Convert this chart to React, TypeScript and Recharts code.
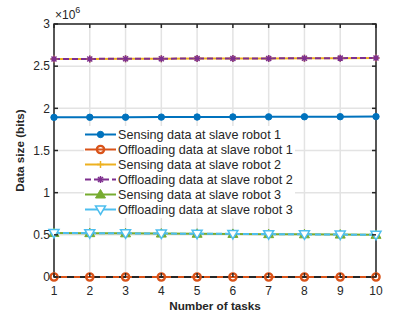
import React from "react";
import {
  LineChart,
  Line,
  XAxis,
  YAxis,
  CartesianGrid,
  Legend,
  ReferenceArea,
  ReferenceLine,
} from "recharts";

const tasks = [1, 2, 3, 4, 5, 6, 7, 8, 9, 10];
const sensing1 = [1893000, 1894000, 1895000, 1896000, 1897000, 1898000, 1899000, 1900000, 1901000, 1902000];
const offloading1 = [0, 0, 0, 0, 0, 0, 0, 0, 0, 0];
const sensing2 = [2585000, 2586000, 2588000, 2589000, 2590000, 2591000, 2592000, 2594000, 2595000, 2597000];
const offloading2 = [2585000, 2586000, 2588000, 2589000, 2590000, 2591000, 2592000, 2594000, 2595000, 2597000];
const sensing3 = [522000, 520000, 518000, 515000, 513000, 511000, 508000, 506000, 503000, 500000];
const offloading3 = [522000, 520000, 518000, 515000, 513000, 511000, 508000, 506000, 503000, 500000];
const yTicks = [0, 500000, 1000000, 1500000, 2000000, 2500000, 3000000];
const seriesNames = [
  "Sensing data at slave robot 1",
  "Offloading data at slave robot 1",
  "Sensing data at slave robot 2",
  "Offloading data at slave robot 2",
  "Sensing data at slave robot 3",
  "Offloading data at slave robot 3",
];

const data = tasks.map((t, i) => ({
  task: t,
  s1: sensing1[i],
  o1: offloading1[i],
  s2: sensing2[i],
  o2: offloading2[i],
  s3: sensing3[i],
  o3: offloading3[i],
}));

const W = 415;
const H = 312;
const margin = { top: 24, right: 39, left: 0, bottom: 0 };
const yAxisW = 54;
const xAxisH = 35;
const plotLeft = yAxisW;
const plotRight = W - margin.right;
const plotTop = margin.top;
const plotBottom = H - xAxisH;
const FONT = "'Liberation Sans', Arial, sans-serif";
const INK = "#262626";

const series = [
  { key: "s1", color: "#0072BD", marker: "dot", dash: undefined as string | undefined },
  { key: "o1", color: "#D95319", marker: "circle", dash: undefined },
  { key: "s2", color: "#EDB120", marker: "plus", dash: undefined },
  { key: "o2", color: "#7E2F8E", marker: "star", dash: "6 3" },
  { key: "s3", color: "#77AC30", marker: "up", dash: undefined },
  { key: "o3", color: "#4DBEEE", marker: "down", dash: "6 3" },
];

function Marker({ cx, cy, type, color }: { cx: number; cy: number; type: string; color: string }) {
  if (cx == null || cy == null) return null;
  switch (type) {
    case "dot":
      return <circle cx={cx} cy={cy} r={3.2} fill={color} stroke={color} />;
    case "circle":
      return <circle cx={cx} cy={cy} r={3.6} fill="none" stroke={color} strokeWidth={2.4} />;
    case "plus":
      return (
        <path d={`M${cx - 3.5},${cy}H${cx + 3.5}M${cx},${cy - 3.5}V${cy + 3.5}`} stroke={color} strokeWidth={1.5} />
      );
    case "star":
      return (
        <path
          d={`M${cx - 3.5},${cy}H${cx + 3.5}M${cx},${cy - 3.5}V${cy + 3.5}M${cx - 2.5},${cy - 2.5}L${cx + 2.5},${cy + 2.5}M${cx - 2.5},${cy + 2.5}L${cx + 2.5},${cy - 2.5}`}
          stroke={color}
          strokeWidth={1.5}
        />
      );
    case "up":
      return <path d={`M${cx},${cy - 5}L${cx + 5},${cy + 3.5}L${cx - 5},${cy + 3.5}Z`} fill={color} stroke={color} />;
    case "down":
      return (
        <path
          d={`M${cx},${cy + 5}L${cx + 5},${cy - 3.5}L${cx - 5},${cy - 3.5}Z`}
          fill="#ffffff"
          stroke={color}
          strokeWidth={1.5}
        />
      );
    default:
      return null;
  }
}

function YTick(props: any) {
  const { x, y, payload } = props;
  return (
    <g>
      <line x1={plotLeft} x2={plotLeft + 4} y1={y} y2={y} stroke={INK} strokeWidth={1.5} />
      <line x1={plotRight - 4} x2={plotRight} y1={y} y2={y} stroke={INK} strokeWidth={1.5} />
      <text x={x} y={y} dy={4.3} textAnchor="end" fontSize={12} fontFamily={FONT} fill={INK}>
        {payload.value / 1e6}
      </text>
    </g>
  );
}

function XTick(props: any) {
  const { x, y, payload } = props;
  return (
    <g>
      <line x1={x} x2={x} y1={plotBottom} y2={plotBottom - 4} stroke={INK} strokeWidth={1.5} />
      <line x1={x} x2={x} y1={plotTop} y2={plotTop + 4} stroke={INK} strokeWidth={1.5} />
      <text x={x} y={y} dy={13.5} textAnchor="middle" fontSize={12} fontFamily={FONT} fill={INK}>
        {payload.value}
      </text>
    </g>
  );
}

function LegendBox() {
  return (
    <div style={{ background: "#ffffff", padding: "1px 2px 1px 0", fontFamily: FONT, fontSize: 12.6, color: INK }}>
      {series.map((s, i) => (
        <div key={s.key} style={{ display: "flex", alignItems: "center", height: 15 }}>
          <svg width={33} height={15} style={{ marginRight: 1 }}>
            <line x1={1} x2={32} y1={7.5} y2={7.5} stroke={s.color} strokeWidth={2} strokeDasharray={s.key === "o2" ? "6 3" : undefined} />
            <Marker cx={16.5} cy={7.5} type={s.marker} color={s.color} />
          </svg>
          <span style={{ whiteSpace: "nowrap" }}>{seriesNames[i]}</span>
        </div>
      ))}
    </div>
  );
}

export default function App() {
  return (
    <div style={{ position: "absolute", left: 0, top: 0, width: W, height: H, background: "#ffffff" }}>
      <LineChart width={W} height={H} data={data} margin={margin}>
        <CartesianGrid stroke="#e3e3e3" strokeWidth={1.5} vertical horizontal />
        <XAxis
          dataKey="task"
          type="number"
          domain={[1, 10]}
          ticks={tasks}
          height={xAxisH}
          tickLine={false}
          axisLine={false}
          tickSize={0}
          tickMargin={4}
          tick={<XTick />}
          label={{
            content: (p: any) => (
              <text
                x={p.viewBox.x + p.viewBox.width / 2}
                y={p.viewBox.y + 33}
                textAnchor="middle"
                fontSize={11.7}
                fontWeight="bold"
                fontFamily={FONT}
                fill={INK}
              >
                Number of tasks
              </text>
            ),
          }}
        />
        <YAxis
          type="number"
          domain={[0, 3000000]}
          ticks={yTicks}
          width={yAxisW}
          tickLine={false}
          axisLine={false}
          tickSize={0}
          tickMargin={4}
          tick={<YTick />}
          label={{
            content: (p: any) => (
              <g>
                <text
                  transform={`translate(${p.viewBox.x + 24},${p.viewBox.y + p.viewBox.height / 2}) rotate(-90)`}
                  textAnchor="middle"
                  fontSize={11.7}
                  fontWeight="bold"
                  fontFamily={FONT}
                  fill={INK}
                >
                  Data size (bits)
                </text>
                <text x={plotLeft + 1} y={plotTop - 5} fontSize={12} fontFamily={FONT} fill={INK}>
                  ×10
                  <tspan dy={-6} fontSize={9}>
                    6
                  </tspan>
                </text>
              </g>
            ),
          }}
        />
        <ReferenceArea x1={1} x2={10} y1={0} y2={3000000} fill="none" stroke={INK} strokeWidth={1.5} ifOverflow="visible" />
        {series.map((s, i) => (
          <Line
            key={s.key}
            dataKey={s.key}
            name={seriesNames[i]}
            stroke={s.color}
            strokeWidth={2}
            strokeDasharray={s.dash}
            isAnimationActive={false}
            dot={(p: any) => <Marker key={`${s.key}-${p.index}`} cx={p.cx} cy={p.cy} type={s.marker} color={s.color} />}
            activeDot={false}
          />
        ))}
        <ReferenceLine y={0} stroke={INK} strokeWidth={2} strokeDasharray="7 6" ifOverflow="visible" />
        <Legend
          layout="vertical"
          align="center"
          verticalAlign="middle"
          content={() => <LegendBox />}
          wrapperStyle={{ left: 84, top: 126, width: "auto", height: "auto" }}
        />
      </LineChart>
    </div>
  );
}
